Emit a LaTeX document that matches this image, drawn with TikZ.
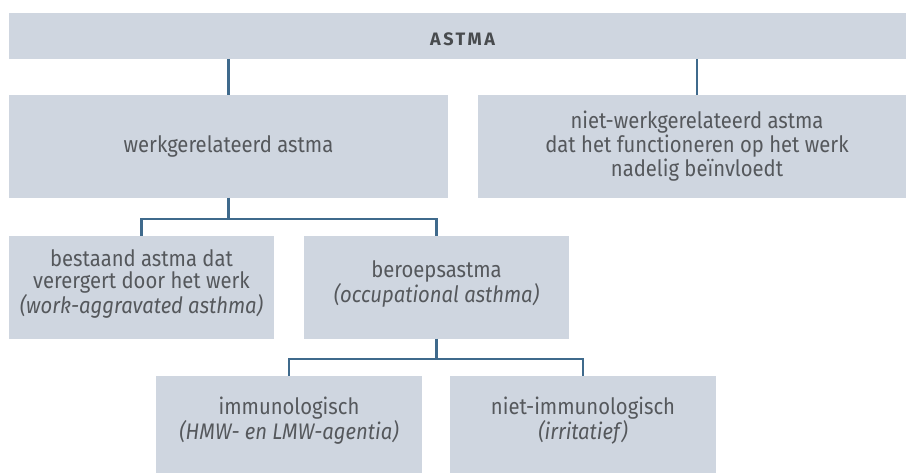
\documentclass[tikz,border=0pt]{standalone}
\usepackage{fontspec}
\setmainfont{Fira Sans}
\newfontfamily\condensed[FakeStretch=0.9]{Fira Sans}
\definecolor{boxfill}{HTML}{CFD6E0}
\definecolor{boxtext}{HTML}{55585C}
\definecolor{linkblue}{HTML}{3F6A8C}
\tikzset{
    box/.style={fill=boxfill, text=boxtext, inner sep=0pt, outer sep=0pt, align=center,
        font=\condensed\fontsize{22.5}{22}\selectfont},
    lowbox/.style={box, text depth=12pt},
    link/.style={draw=linkblue, line width=2.6pt}
}
\begin{document}
\begin{tikzpicture}[x=1pt, y=-1pt]
    \useasboundingbox (0, 0) rectangle (906, 473);

    \node[box, minimum width=907pt, minimum height=46pt, text height=20pt, text=boxtext!85!black,
        font=\fontsize{18}{20}\selectfont\bfseries\addfontfeatures{LetterSpace=14}] (astma) at (462.5, 36) {ASTMA};

    \node[box, minimum width=439pt, minimum height=103pt] (werk) at (228.5, 146.5) {werkgerelateerd astma};
    \node[box, minimum width=438pt, minimum height=103pt, font=\condensed\fontsize{22.5}{24}\selectfont] (nietwerk) at (697, 146.5)
        {niet-werkgerelateerd astma\\dat het functioneren op het werk\\nadelig beïnvloedt};

    \node[lowbox, minimum width=265pt, minimum height=103pt] (bestaand) at (141.5, 287.5)
        {bestaand astma dat\\verergert door het werk\\\textit{(work-aggravated asthma)}};
    \node[lowbox, minimum width=265pt, minimum height=103pt] (beroeps) at (436.5, 287.5)
        {beroepsastma\\\textit{(occupational asthma)}};

    \node[lowbox, minimum width=266pt, minimum height=97pt] (immuno) at (289, 424.5)
        {immunologisch\\\textit{(HMW- en LMW-agentia)}};
    \node[lowbox, minimum width=266pt, minimum height=97pt] (nietimmuno) at (583, 424.5)
        {niet-immunologisch\\\textit{(irritatief)}};

    \draw[link] (astma.south -| werk.north) -- (werk.north);
    \draw[link] (astma.south -| nietwerk.north) -- (nietwerk.north);

    \draw[link] (werk.south) -- ++(0, 21) -| (bestaand.north);
    \draw[link] (werk.south) -- ++(0, 21) -| (beroeps.north);

    \draw[link] (beroeps.south) -- ++(0, 20) -| (immuno.north);
    \draw[link] (beroeps.south) -- ++(0, 20) -| (nietimmuno.north);
\end{tikzpicture}
\end{document}
